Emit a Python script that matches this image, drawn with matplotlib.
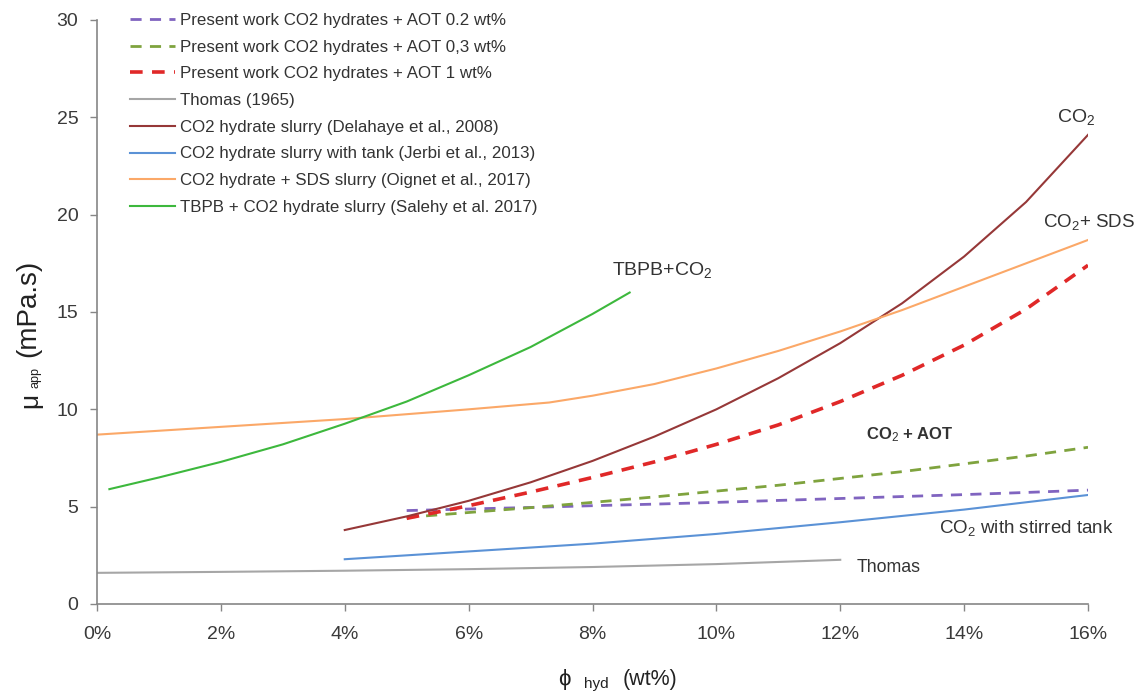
import numpy as np
import matplotlib.pyplot as plt
from matplotlib.ticker import FuncFormatter

plt.rcParams['font.family'] = ['Liberation Sans', 'DejaVu Sans']
plt.rcParams['mathtext.fontset'] = 'custom'
plt.rcParams['mathtext.rm'] = 'Liberation Sans'
plt.rcParams['mathtext.it'] = 'Liberation Sans:italic'

# hydrate fraction in wt%, apparent viscosity in mPa.s
aot_x = [5, 6, 7, 8, 9, 10, 11, 12, 13, 14, 15, 16]
aot02 = [4.8, 4.88, 4.96, 5.05, 5.13, 5.22, 5.32, 5.42, 5.52, 5.62, 5.73, 5.85]
aot03 = [4.45, 4.7, 4.95, 5.22, 5.5, 5.8, 6.1, 6.45, 6.8, 7.2, 7.6, 8.05]
aot1 = [4.4, 5.05, 5.75, 6.5, 7.3, 8.2, 9.2, 10.4, 11.75, 13.3, 15.15, 17.4]

thomas_x = [0, 2, 4, 6, 8, 10, 12]
thomas_y = [1.6, 1.65, 1.71, 1.79, 1.9, 2.05, 2.27]

delahaye_x = [4, 5, 6, 7, 8, 9, 10, 11, 12, 13, 14, 15, 16]
delahaye_y = [3.8, 4.5, 5.3, 6.25, 7.35, 8.6, 10.0, 11.6, 13.4, 15.45, 17.85, 20.65, 24.1]

jerbi_x = [4, 6, 8, 10, 12, 14, 16]
jerbi_y = [2.3, 2.7, 3.1, 3.6, 4.2, 4.85, 5.6]

oignet_x = [0, 2, 4, 6, 7.3, 8, 9, 10, 11, 12, 13, 14, 15, 16]
oignet_y = [8.7, 9.1, 9.5, 10.0, 10.35, 10.7, 11.3, 12.1, 13.0, 14.0, 15.1, 16.3, 17.5, 18.7]

salehy_x = [0.2, 1, 2, 3, 4, 5, 6, 7, 8, 8.6]
salehy_y = [5.9, 6.5, 7.3, 8.2, 9.26, 10.4, 11.75, 13.2, 14.9, 16.0]

W, H = 1136, 694
fig = plt.figure(figsize=(W/100, H/100), dpi=100)
ax = fig.add_axes([97/W, 90/H, 991/W, 584/H])

ax.plot(aot_x, aot02, color='#8064C0', lw=2, dashes=(4, 3),
        label='Present work CO2 hydrates + AOT 0.2 wt%')
ax.plot(aot_x, aot03, color='#7FA33E', lw=2, dashes=(4, 3),
        label='Present work CO2 hydrates + AOT 0,3 wt%')
ax.plot(aot_x, aot1, color='#E02828', lw=2.6, dashes=(3.5, 2.6),
        label='Present work CO2 hydrates + AOT 1 wt%')
ax.plot(thomas_x, thomas_y, color='#A6A6A6', lw=1.5, label='Thomas (1965)')
ax.plot(delahaye_x, delahaye_y, color='#963838', lw=1.5,
        label='CO2 hydrate slurry (Delahaye et al., 2008)')
ax.plot(jerbi_x, jerbi_y, color='#5B92D6', lw=1.5,
        label='CO2 hydrate slurry with tank (Jerbi et al., 2013)')
ax.plot(oignet_x, oignet_y, color='#FBA868', lw=1.5,
        label='CO2 hydrate + SDS slurry (Oignet et al., 2017)')
ax.plot(salehy_x, salehy_y, color='#3DB83D', lw=1.5,
        label='TBPB + CO2 hydrate slurry (Salehy et al. 2017)')

ax.set_xlim(0, 16)
ax.set_ylim(0, 30)
ax.set_xticks(np.arange(0, 17, 2))
ax.set_yticks(np.arange(0, 31, 5))
ax.xaxis.set_major_formatter(FuncFormatter(lambda v, p: f'{int(v)}%'))
ax.tick_params(labelsize=14, colors='#3a3a3a', length=5, width=1,
               color='#868686')
ax.tick_params(axis='x', pad=11)
ax.tick_params(axis='y', pad=8.5)
for s in ['top', 'right']:
    ax.spines[s].set_visible(False)
for s in ['left', 'bottom']:
    ax.spines[s].set_color('#868686')
    ax.spines[s].set_linewidth(1.2)

# axis titles built from pieces (big symbol, small subscript)
lab = dict(color='#222222', ha='center', va='center')
fig.text(30/W, 1 - 400/H, 'μ', fontsize=19, rotation=90, **lab)
fig.text(36/W, 1 - 378/H, 'app', fontsize=9, rotation=90, **lab)
fig.text(28/W, 1 - 308/H, '(mPa.s)', fontsize=20, rotation=90, **lab)
fig.text(564/W, 1 - 679/H, '\u03d5', fontsize=16, **lab)
fig.text(596/W, 1 - 684/H, 'hyd', fontsize=11, **lab)
fig.text(650/W, 1 - 680/H, '(wt%)', fontsize=15.5, **lab)

txt = dict(color='#333333', va='center')
ax.text(15.5, 25.0, r'CO$_2$', fontsize=14, **txt)
ax.text(15.27, 19.6, r'CO$_2$+ SDS', fontsize=13.5, clip_on=False, **txt)
ax.text(8.31, 17.15, r'TBPB+CO$_2$', fontsize=14, **txt)
ax.text(12.41, 8.68, r'CO$_2$ + AOT', fontsize=12, fontweight='bold', **txt)
ax.text(13.6, 3.9, r'CO$_2$ with stirred tank', fontsize=13.5, clip_on=False, **txt)
ax.text(12.27, 1.9, 'Thomas', fontsize=12.8, **txt)

ax.legend(loc='upper left', bbox_to_anchor=(33/991, 1 + 7/584), frameon=False,
          fontsize=12.2, handlelength=2.66, labelspacing=0.69, borderpad=0,
          borderaxespad=0, handletextpad=0.3, labelcolor='#333333')

fig.savefig('out.png', dpi=100)
